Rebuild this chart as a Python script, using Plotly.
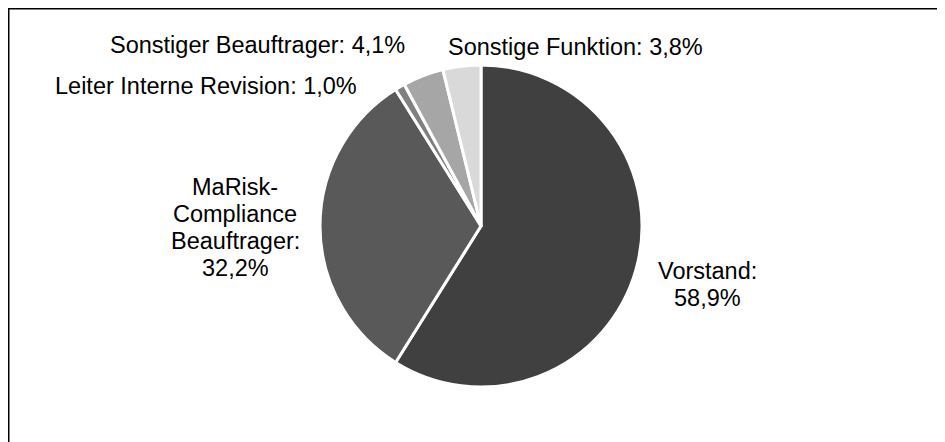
"""Verteilung der Compliance-Funktion — Kreisdiagramm"""

import plotly.graph_objects as go

# Seite hat 8px Body-Rand, daher Figur 8px kleiner als das Fenster
W, H = 937, 434

# Daten
CATEGORIES = [
    'Vorstand',
    'MaRisk-Compliance Beauftrager',
    'Leiter Interne Revision',
    'Sonstiger Beauftrager',
    'Sonstige Funktion',
]
VALUES = [58.9, 32.2, 1.0, 4.1, 3.8]
LABEL_TEXT = [
    'Vorstand:\n',
    'MaRisk-\nCompliance\nBeauftrager:\n',
    'Leiter Interne Revision: ',
    'Sonstiger Beauftrager: ',
    'Sonstige Funktion: ',
]

COLORS = ['#404040', '#595959', '#808080', '#a6a6a6', '#d9d9d9']

# Label-Positionen in Pixeln (Mitte x, Mitte erste Zeile y von oben)
LABEL_POS = [(699, 263), (227, 178.5), (197.5, 78), (249.5, 37.5), (567.5, 38.5)]
LINE_STEP = 27.3
FONT_SIZE = 23.5


def pct(v):
    return f'{v:.1f}'.replace('.', ',') + '%'


cx, cy, r = 473, 218, 161

fig = go.Figure()

fig.add_trace(go.Pie(
    labels=CATEGORIES,
    values=VALUES,
    sort=False,
    direction='clockwise',
    rotation=0,
    marker=dict(colors=COLORS, line=dict(color='white', width=3)),
    textinfo='none',
    hoverinfo='label+percent',
    showlegend=False,
    domain=dict(x=[(cx - r) / W, (cx + r) / W],
                y=[1 - (cy + r) / H, 1 - (cy - r) / H]),
))

for txt, v, (px, py) in zip(LABEL_TEXT, VALUES, LABEL_POS):
    lines = (txt + pct(v)).split('\n')
    for i, line in enumerate(lines):
        fig.add_annotation(
            x=px / W, y=1 - (py + i * LINE_STEP) / H, xref='paper', yref='paper',
            text=line,
            showarrow=False, xanchor='center', yanchor='middle',
            font=dict(size=FONT_SIZE, color='black',
                      family='Liberation Sans, Arial, sans-serif'),
        )

# Rahmen (nur oben und links sichtbar)
fig.add_shape(type='rect', xref='paper', yref='paper',
              x0=0, x1=1.05, y0=-0.05, y1=1,
              line=dict(color='black', width=3), fillcolor='rgba(0,0,0,0)')

fig.update_layout(
    width=W,
    height=H,
    margin=dict(l=0, r=0, t=0, b=0),
    plot_bgcolor='white',
    paper_bgcolor='white',
    font=dict(family='Liberation Sans, Arial, sans-serif'),
)

fig.write_html('out.html')
